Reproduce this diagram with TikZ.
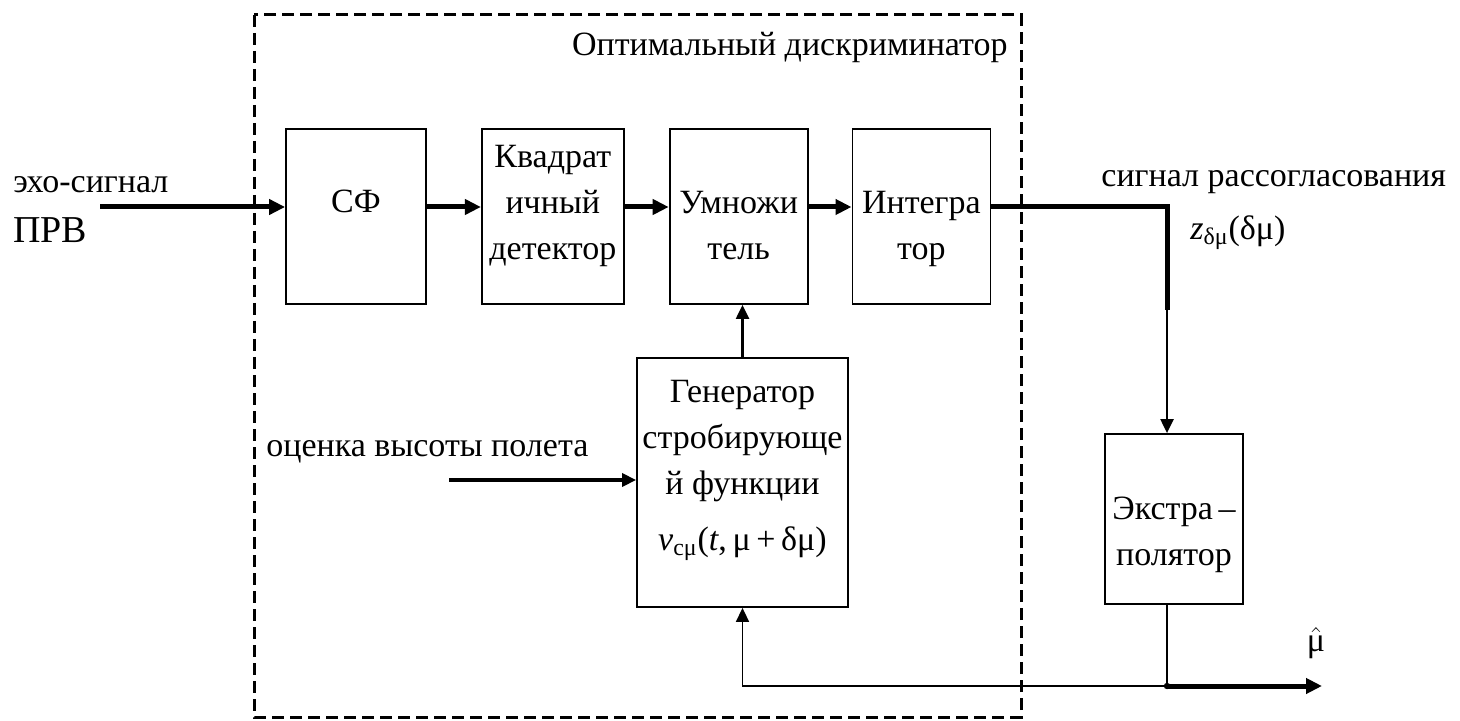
\documentclass[tikz,border=0pt]{standalone}
\usepackage{fontspec}
\setmainfont{Liberation Serif}
\usetikzlibrary{arrows.meta, positioning}

\begin{document}
\begin{tikzpicture}[
        x = 0.5pt, y = -0.5pt,
        font = \fontsize{17}{23}\selectfont,
        block/.style = {
            rectangle,
            draw       = black,
            line width = 0.9pt,
            align      = center,
            inner sep  = 0pt
        },
        topblock/.style = {
            block,
            minimum width = 70pt,
            text height   = 65.5pt,
            text depth    = 22pt
        },
        sig/.style   = {inner sep = 0pt, anchor = west},
        bus/.style   = {line width = 2.5pt, -{Triangle[length=8pt, width=7.5pt]}},
        flow/.style  = {line width = 1.1pt, -{Triangle[length=7pt, width=6.5pt]}},
        wire/.style  = {line width = 0.8pt},
        frame/.style = {line width = 1.5pt, dash pattern = on 6pt off 3pt}
    ]
    \useasboundingbox (0,0) rectangle (1460,721);

    % optimal discriminator frame
    \draw[frame] (254,15) rectangle (1021,717);
    \node[sig, anchor = east] (title) at (1008,47) {Оптимальный дискриминатор};

    % upper chain
    \node[topblock, text height = 42pt, text depth = 45.5pt] (sf) at (356,216.5) {СФ};
    \node[topblock, minimum width = 71pt, right = 27pt of sf]  (sq)  {Квадрат\\ичный\\детектор};
    \node[topblock, minimum width = 69pt, right = 22pt of sq]  (mul) {Умножи\\тель};
    \node[topblock, minimum width = 69pt, right = 21.5pt of mul] (int) {Интегра\\тор};

    % strobe generator and extrapolator
    \node[block, minimum width = 105.5pt, text height = 96pt, text depth = 28.5pt]
        (gen) at (742.5,482.5)
        {Генератор\\стробирующе\\й функции\\[5pt]
         \textit{v}\textsubscript{сμ}(\textit{t},\,μ\,+\,δμ)};
    \node[block, minimum width = 69pt, text height = 65.5pt, text depth = 19.5pt]
        (ex) at (1174,519) {Экстра\,–\\полятор};

    % signal labels
    \node[sig] (echo) at (13,185) {эхо-сигнал};
    \node[sig, font = \fontsize{19}{23}\selectfont] (prv) at (13,230) {ПРВ};
    \node[sig] (err)  at (1101,182) {сигнал рассогласования};
    \node[sig] (zlab) at (1190,233) {\textit{z}\textsubscript{δμ}(δμ)};
    \node[sig] (hgt)  at (266,452) {оценка высоты полета};
    \node (muhat) at (1316,643) {$\hat{\textup{μ}}$};

    \coordinate (in)   at (100,207);
    \coordinate (turn) at (1167,207);
    \coordinate (drop) at (1167,310);
    \coordinate (est)  at (449,480);
    \coordinate (jn)   at (1167,686);
    \coordinate (out)  at (1322,686);

    \draw[bus] (in) -- (sf.west |- in);
    \draw[bus] (sf.east |- in)  -- (sq.west |- in);
    \draw[bus] (sq.east |- in)  -- (mul.west |- in);
    \draw[bus] (mul.east |- in) -- (int.west |- in);
    \draw[line width = 2.5pt] (int.east |- in) -- (turn) -- (drop);
    \draw[flow] (drop) -- (ex.north -| drop);

    \draw[flow] (gen.north) -- (gen.north |- mul.south);
    \draw[flow, line width = 2pt] (est) -- (gen.west |- est);

    \draw[wire] (ex.south -| jn) -- (jn);
    \fill (jn) circle (1.6pt);
    \draw[bus] (jn) -- (out);
    \draw[flow, line width = 0.8pt] (jn) -| (gen.south);
\end{tikzpicture}
\end{document}
